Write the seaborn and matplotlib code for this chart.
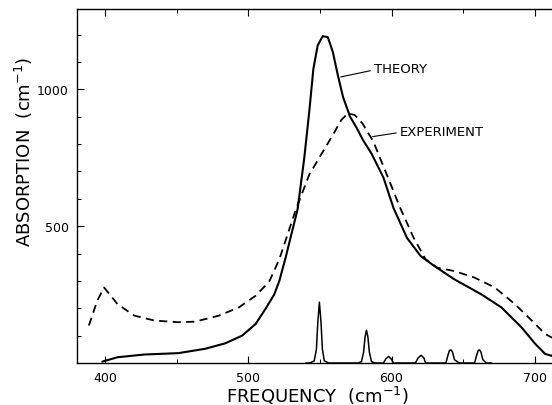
import numpy as np
import pandas as pd
import matplotlib
matplotlib.use("Agg")
import matplotlib.pyplot as plt
import seaborn as sns

# Theory curve (solid)
theory_x = [397.9, 408.5, 427.3, 451, 469.8, 483.9, 495.6, 505.1, 512.2, 518, 521.6,
            526, 530, 534.3, 539, 542.5, 545.4, 548.4, 551.9, 555.5, 559, 562.5,
            566.1, 571, 575.5, 580, 586, 594.3, 601.4, 610.8, 620.3, 629.7, 643.8,
            662.7, 676.8, 690.9, 700.4, 707.4, 712.2, 715.9]
theory_y = [5, 21, 31, 36, 52, 72, 100, 143, 200, 250, 300,
            385, 470, 560, 748, 918, 1075, 1160, 1194, 1190, 1136, 1051,
            972, 900, 860, 815, 765, 678, 566, 457, 391, 355, 306,
            251, 203, 130, 70, 33, 26, 40]

# Experiment curve (dashed)
exp_x = [388.5, 394.3, 399.1, 403.8, 408.5, 420.3, 434.4, 451, 462.7, 479.3, 493.3,
         505.1, 514.5, 521.6, 533.1, 542.5, 552, 559, 564.9, 569.6, 574.3, 579.7,
         587.3, 596.7, 606.1, 615.5, 623.8, 632, 643.8, 658, 672.1, 686.2, 698,
         707.4, 715.9]
exp_y = [137, 227, 276, 246, 215, 173, 155, 149, 151, 173, 203,
         246, 297, 379, 560, 688, 772, 833, 888, 912, 906, 875,
         809, 688, 566, 457, 379, 348, 336, 312, 276, 215, 155,
         106, 82]

# Computed line spectrum (sharp peaks)
stick_x = [540, 543, 546, 547.5, 548.5, 549.6, 550.7, 551.7, 553, 556,
           576.5, 579, 580.5, 581.5, 582.5, 583.5, 584.5, 586, 588.5,
           594.4, 596, 597.9, 599.8, 601.4,
           616.7, 618.5, 620.7, 622.7, 623.7,
           638, 639.5, 640.5, 641.5, 642.6, 644, 647.3,
           658, 659.6, 660.6, 661.5, 662.5, 663.8, 666.2, 670]
stick_y = [0, 0, 8, 50, 150, 222, 150, 50, 8, 0,
           0, 5, 40, 95, 120, 95, 40, 5, 0,
           0, 15, 24, 15, 0,
           0, 18, 28, 18, 0,
           0, 30, 46, 48, 40, 12, 0,
           0, 30, 46, 48, 40, 12, 0, 0]

x_ticks_major = [400, 500, 600, 700]
y_ticks_major = [500, 1000]

sns.set_style("ticks")
plt.rcParams['font.family'] = ['DejaVu Sans']
plt.rcParams['xtick.direction'] = 'in'
plt.rcParams['ytick.direction'] = 'in'
plt.rcParams['text.color'] = 'black'
plt.rcParams['axes.labelcolor'] = 'black'
plt.rcParams['xtick.color'] = 'black'
plt.rcParams['ytick.color'] = 'black'
plt.rcParams['axes.edgecolor'] = 'black'

fig = plt.figure(figsize=(5.52, 4.06), dpi=100)
ax = fig.add_axes([77/552, 1 - 364/406, 1 - 77/552 + 0.01, (364 - 9.5)/406])

df_t = pd.DataFrame({"x": theory_x, "y": theory_y})
df_e = pd.DataFrame({"x": exp_x, "y": exp_y})
df_s = pd.DataFrame({"x": stick_x, "y": stick_y})

sns.lineplot(data=df_t, x="x", y="y", ax=ax, color="black", lw=1.5,
             estimator=None, sort=False)
sns.lineplot(data=df_e, x="x", y="y", ax=ax, color="black", lw=1.3,
             estimator=None, sort=False, dashes=False, linestyle=(0, (4.5, 3)))
sns.lineplot(data=df_s, x="x", y="y", ax=ax, color="black", lw=1.1,
             estimator=None, sort=False)

ax.set_xlim(380.2, 716)
ax.set_ylim(0, 1295)
ax.set_xticks(x_ticks_major)
ax.set_xticks(np.arange(400, 716, 50), minor=True)
ax.set_yticks(y_ticks_major)
ax.set_yticks(np.arange(100, 1295, 100), minor=True)
ax.tick_params(axis='both', which='major', length=5, width=0.8, labelsize=9,
               top=True, bottom=True, left=True, right=False, pad=6)
ax.tick_params(axis='both', which='minor', length=3, width=0.7,
               top=True, bottom=True, left=True, right=False)
for s in ['left', 'bottom', 'top']:
    ax.spines[s].set_linewidth(1.0)
    ax.spines[s].set_visible(True)
ax.spines['right'].set_visible(False)

ax.set_xlabel("FREQUENCY  (cm$^{-1}$)", fontsize=13, labelpad=0)
ax.set_ylabel("ABSORPTION  (cm$^{-1}$)", fontsize=13)
ax.yaxis.set_label_coords(-0.088, 0.598)

ax.annotate("THEORY", xy=(564.5, 1045), xytext=(587.5, 1075),
            fontsize=9.5, va='center', ha='left',
            arrowprops=dict(arrowstyle='-', lw=0.8, color='black',
                            shrinkA=0, shrinkB=0, relpos=(0, 0.4)))
ax.annotate("EXPERIMENT", xy=(586.8, 827), xytext=(605.6, 847),
            fontsize=9.5, va='center', ha='left',
            arrowprops=dict(arrowstyle='-', lw=0.8, color='black',
                            shrinkA=0, shrinkB=0, relpos=(0, 0.4)))

fig.savefig("out.png", dpi=100)
